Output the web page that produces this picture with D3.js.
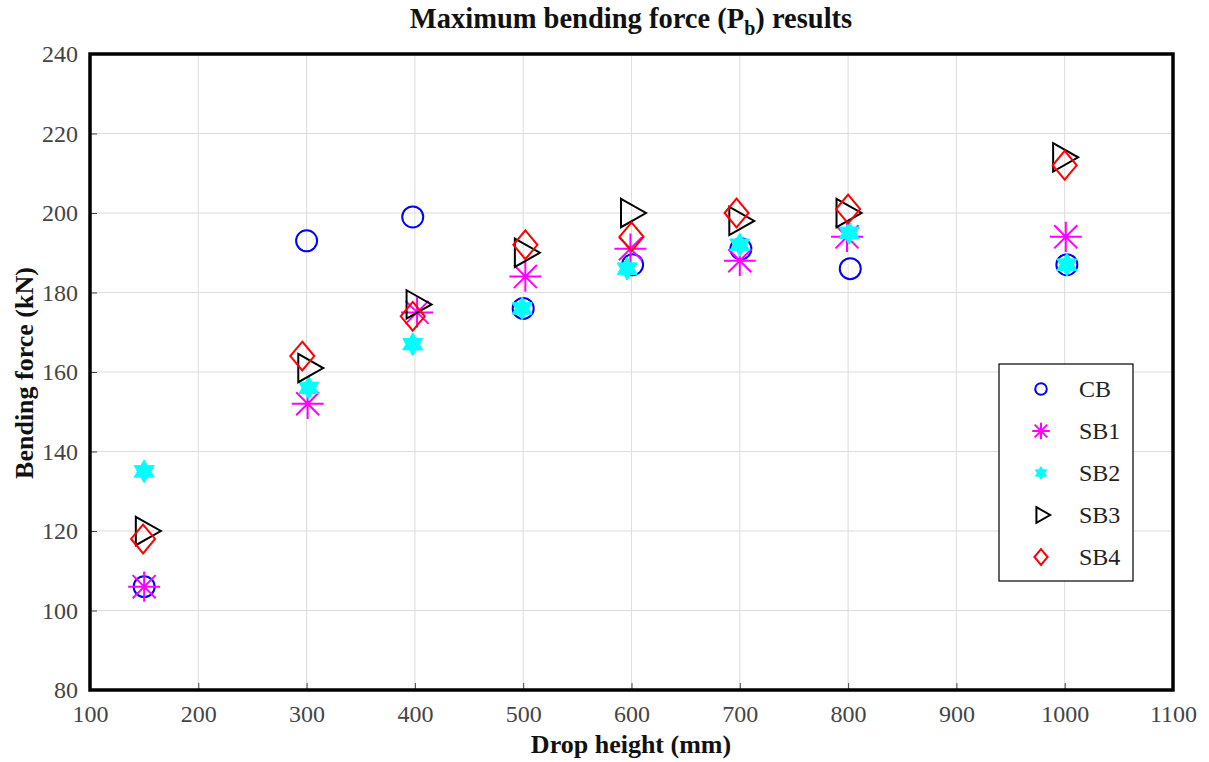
<!DOCTYPE html>
<html>
<head>
<meta charset="utf-8">
<script src="https://cdn.jsdelivr.net/npm/d3@7"></script>
<style>
  html, body { margin: 0; padding: 0; background: #fff; }
  svg { display: block; }
</style>
</head>
<body>
<svg id="chart" width="1209" height="762"></svg>
<script>
// Maximum bending force per specimen group vs. drop height
const seriesNames = ["CB", "SB1", "SB2", "SB3", "SB4"];
const seriesColors = ["#0000ff", "#ff00ff", "#00ffff", "#000000", "#ff0000"];

const cbHeights  = [150, 300, 398, 500, 601, 701, 802, 1002];
const cbForce    = [106, 193, 199, 176, 187, 191, 186, 187];

const sb1Heights = [150, 301, 402, 502, 599, 700, 799, 1001];
const sb1Force   = [106, 152, 175, 184, 191, 188, 194, 194];

const sb2Heights = [150, 302, 398, 499, 596, 700, 801, 1002];
const sb2Force   = [135, 156, 167, 176, 186, 192, 195, 187];

const sb3Heights = [150, 300, 400, 500, 598, 698, 797, 997];
const sb3Force   = [120, 161, 177, 190, 200, 198, 200, 214];

const sb4Heights = [149, 296, 398, 502, 600, 697, 800, 1000];
const sb4Force   = [118, 164, 174, 192, 194, 200, 201, 212];

const xTicks = [100, 200, 300, 400, 500, 600, 700, 800, 900, 1000, 1100];
const yTicks = [80, 100, 120, 140, 160, 180, 200, 220, 240];

const series = [
  { name: seriesNames[0], xs: cbHeights,  ys: cbForce,  color: seriesColors[0], shape: "circle" },
  { name: seriesNames[1], xs: sb1Heights, ys: sb1Force, color: seriesColors[1], shape: "asterisk" },
  { name: seriesNames[2], xs: sb2Heights, ys: sb2Force, color: seriesColors[2], shape: "hexagram" },
  { name: seriesNames[3], xs: sb3Heights, ys: sb3Force, color: seriesColors[3], shape: "triangle" },
  { name: seriesNames[4], xs: sb4Heights, ys: sb4Force, color: seriesColors[4], shape: "diamond" }
];

const svg = d3.select("#chart");
const serif = "'Liberation Serif', 'Times New Roman', serif";

const plot = { left: 90, right: 1173, top: 54, bottom: 690 };
const x = d3.scaleLinear().domain([100, 1100]).range([plot.left, plot.right]);
const y = d3.scaleLinear().domain([80, 240]).range([plot.bottom, plot.top]);

// grid
const grid = svg.append("g");
grid.selectAll("line.vx").data(xTicks).join("line")
  .attr("x1", d => x(d)).attr("x2", d => x(d))
  .attr("y1", plot.top).attr("y2", plot.bottom)
  .attr("stroke", "#dcdcdc").attr("stroke-width", 1);
grid.selectAll("line.hy").data(yTicks).join("line")
  .attr("x1", plot.left).attr("x2", plot.right)
  .attr("y1", d => y(d)).attr("y2", d => y(d))
  .attr("stroke", "#dcdcdc").attr("stroke-width", 1);

// axes with inward ticks
const xAxis = svg.append("g").attr("transform", `translate(0,${plot.bottom})`)
  .call(d3.axisBottom(x).tickValues(xTicks).tickSize(-7).tickPadding(15).tickFormat(d3.format("d")));
const yAxis = svg.append("g").attr("transform", `translate(${plot.left},0)`)
  .call(d3.axisLeft(y).tickValues(yTicks).tickSize(-7).tickPadding(12).tickFormat(d3.format("d")));
[xAxis, yAxis].forEach(a => {
  a.select(".domain").remove();
  a.selectAll(".tick line").attr("stroke", "#444").attr("stroke-width", 1);
  a.selectAll(".tick text").attr("font-family", serif).attr("font-size", 24).attr("fill", "#444");
});

// frame
svg.append("rect")
  .attr("x", plot.left).attr("y", plot.top)
  .attr("width", plot.right - plot.left).attr("height", plot.bottom - plot.top)
  .attr("fill", "none").attr("stroke", "#000").attr("stroke-width", 3.5);

// marker shapes
function hexagramPath(R) {
  const r = R / Math.sqrt(3);
  const pts = d3.range(12).map(i => {
    const a = -Math.PI / 2 + i * Math.PI / 6;
    const rad = i % 2 === 0 ? R : r;
    return [rad * Math.cos(a), rad * Math.sin(a)];
  });
  return "M" + pts.map(p => p.join(",")).join("L") + "Z";
}
function asteriskPath(R) {
  const d = R * 0.72;
  return `M${-R},0L${R},0M0,${-R * 0.95}L0,${R * 0.95}M${-d},${-d}L${d},${d}M${-d},${d}L${d},${-d}`;
}
function trianglePath(s) {
  // right-pointing triangle, centroid at origin
  const w = s * 1.85, h = s * 2.1;
  return `M${-w / 3},${-h / 2}L${2 * w / 3},0L${-w / 3},${h / 2}Z`;
}
function diamondPath(s) {
  const w = s, h = s * 1.2;
  return `M0,${-h}L${w},0L0,${h}L${-w},0Z`;
}

function drawMarker(g, shape, color, scale) {
  if (shape === "circle") {
    g.append("circle").attr("r", 10.5 * scale).attr("fill", "none")
      .attr("stroke", color).attr("stroke-width", 2);
  } else if (shape === "asterisk") {
    g.append("path").attr("d", asteriskPath(16 * scale)).attr("fill", "none")
      .attr("stroke", color).attr("stroke-width", 2);
  } else if (shape === "hexagram") {
    g.append("path").attr("d", hexagramPath(11.5 * scale)).attr("fill", color)
      .attr("stroke", color).attr("stroke-width", 1);
  } else if (shape === "triangle") {
    g.append("path").attr("d", trianglePath(13.5 * scale)).attr("fill", "none")
      .attr("stroke", color).attr("stroke-width", 2).attr("stroke-linejoin", "miter");
  } else if (shape === "diamond") {
    g.append("path").attr("d", diamondPath(12 * scale)).attr("fill", "none")
      .attr("stroke", color).attr("stroke-width", 2);
  }
}

const marks = svg.append("g");
series.forEach(s => {
  const pts = s.xs.map((h, i) => ({ h, f: s.ys[i] }));
  marks.append("g").selectAll("g").data(pts).join("g")
    .attr("transform", d => `translate(${x(d.h)},${y(d.f)})`)
    .each(function () { drawMarker(d3.select(this), s.shape, s.color, 1); });
});

// legend
const lg = svg.append("g");
lg.append("rect").attr("x", 999).attr("y", 364).attr("width", 134).attr("height", 217)
  .attr("fill", "#fff").attr("stroke", "#000").attr("stroke-width", 1.2);
series.forEach((s, i) => {
  const cy = 389 + i * 42;
  const mg = lg.append("g").attr("transform", `translate(1041,${cy})`);
  drawMarker(mg, s.shape, s.color, 0.55);
  lg.append("text").attr("x", 1079).attr("y", cy).attr("dy", "0.35em")
    .attr("font-family", serif).attr("font-size", 24).attr("fill", "#222")
    .text(s.name);
});

// title
const title = svg.append("text").attr("x", 631).attr("y", 28).attr("text-anchor", "middle")
  .attr("font-family", serif).attr("font-size", 28.5).attr("font-weight", "bold").attr("fill", "#111");
title.append("tspan").text("Maximum bending force (P");
title.append("tspan").attr("dy", 7).attr("font-size", 20).text("b");
title.append("tspan").attr("dy", -7).text(") results");

// axis labels
svg.append("text").attr("x", 631).attr("y", 753).attr("text-anchor", "middle")
  .attr("font-family", serif).attr("font-size", 26).attr("font-weight", "bold").attr("fill", "#111")
  .text("Drop height (mm)");
svg.append("text").attr("transform", "translate(33,373) rotate(-90)").attr("text-anchor", "middle")
  .attr("font-family", serif).attr("font-size", 26).attr("font-weight", "bold").attr("fill", "#111")
  .text("Bending force (kN)");
</script>
</body>
</html>
